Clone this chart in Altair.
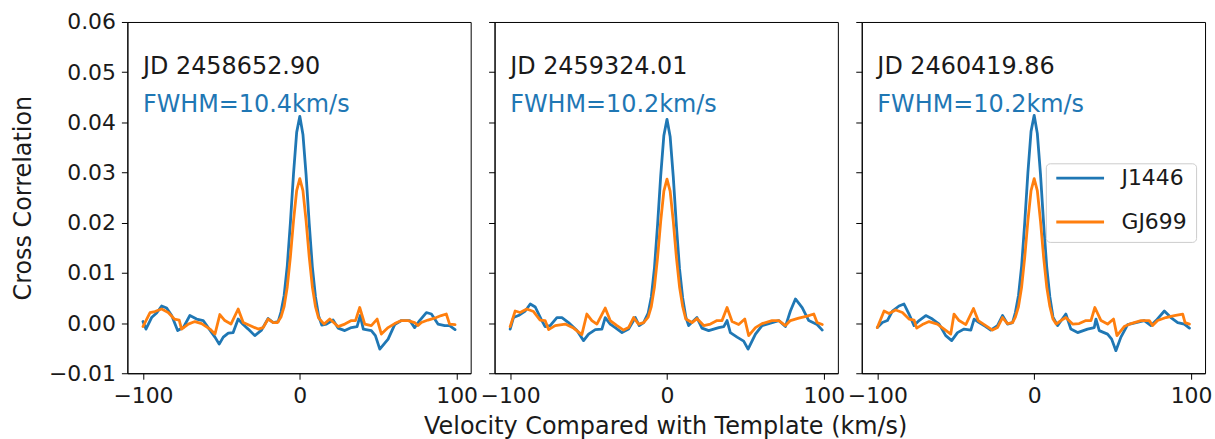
import altair as alt
import pandas as pd

# ---- labels -------------------------------------------------------------
STARS = ["J1446", "GJ699"]
STAR_COLORS = ["#1f77b4", "#ff7f0e"]
EPOCHS = ["JD 2458652.90", "JD 2459324.01", "JD 2460419.86"]
FWHM = ["FWHM=10.4km/s", "FWHM=10.2km/s", "FWHM=10.2km/s"]
X_TICKS = [-100, 0, 100]
Y_TICKS = [-0.01, 0.0, 0.01, 0.02, 0.03, 0.04, 0.05, 0.06]
X_DOMAIN = [-109.95, 108.95]
Y_DOMAIN = [-0.01, 0.06]
NOTE_V = -100                 # left edge of the epoch / FWHM notes (km/s)
NOTE_CC = [0.0497, 0.0420]    # baselines of the two note lines

# ---- cross-correlation functions: (velocity km/s, CCF) -------------------
j1446_e1 = [
    (-100, 0.0003), (-98.1, -0.0012), (-94.5, 0.0011), (-91.3, 0.0020), (-88.1, 0.0034),
    (-84.9, 0.0030), (-81.7, 0.0015), (-77.9, -0.0015), (-74.3, -0.0009), (-70.1, 0.0015),
    (-65.8, 0.0008), (-61.6, 0.0005), (-57.3, -0.0014), (-54.1, -0.0028), (-51.4, -0.0042),
    (-48.8, -0.0028), (-45.6, -0.0020), (-42.5, -0.0019), (-39.3, 0.0008), (-36.1, -0.0003),
    (-32.9, -0.0012), (-28.7, -0.0025), (-24.4, -0.0014), (-20.2, 0.0009), (-16.9, 0.0001),
    (-13.8, 0.0003), (-12, 0.0022), (-10, 0.0055), (-8, 0.0114), (-6, 0.0200), (-4, 0.0298),
    (-2, 0.0380), (0, 0.0412), (2, 0.0376), (4, 0.0296), (6, 0.0198), (8, 0.0112),
    (10, 0.0052), (12, 0.0014), (14, -0.0004), (17.0, -0.0002), (21.2, 0.0006),
    (24.4, -0.0010), (28.7, -0.0015), (32.9, -0.0009), (36.5, -0.0007), (38.5, 0.0015),
    (40.5, -0.0012), (45.6, -0.0015), (48.2, -0.0025), (51.0, -0.0052), (56.3, -0.0032),
    (60.5, -0.0003), (64.8, 0.0005), (70.1, 0.0005), (73.2, -0.0009), (76.4, 0.0005),
    (80.7, 0.0021), (83.9, 0.0018), (88.1, -0.0002), (92.4, -0.0005), (95.5, -0.0005),
    (99, -0.0013),
]
gj699_e1 = [
    (-100, -0.0007), (-95.5, 0.0021), (-92.4, 0.0023), (-88.1, 0.0028), (-83.9, 0.0021),
    (-80.0, 0.0008), (-76.9, 0.0006), (-75.4, -0.0012), (-71.1, -0.0002), (-66.9, 0.0003),
    (-62.6, -0.0001), (-57.3, -0.0012), (-54.1, -0.0022), (-51.0, 0.0017), (-47.8, 0.0005),
    (-43.9, -0.0002), (-39.3, 0.0028), (-36.1, 0.0001), (-31.8, -0.0005), (-26.5, -0.0012),
    (-23.4, -0.0009), (-20.2, 0.0008), (-16.9, 0.0001), (-14.2, 0.0001), (-12, 0.0012),
    (-10, 0.0033), (-8, 0.0072), (-6, 0.0132), (-4, 0.0204), (-2, 0.0264), (0, 0.0288),
    (2, 0.0264), (4, 0.0204), (6, 0.0132), (8, 0.0072), (10, 0.0033), (12, 0.0010),
    (15.5, -0.0002), (19.1, 0.0008), (24.4, -0.0007), (28.7, -0.0002), (32.9, 0.0005),
    (35.5, 0.0005), (38.2, 0.0031), (41.4, -0.0002), (45.6, -0.0005), (49.3, 0.0008),
    (52.0, -0.0022), (56.3, -0.0009), (60.5, -0.0001), (64.8, 0.0005), (69.0, 0.0005),
    (73.2, 0.0001), (75.4, -0.0005), (77.5, 0.0001), (81.7, 0.0006), (87.0, 0.0011),
    (90.2, 0.0015), (93.4, 0.0018), (95.5, -0.0002), (99, -0.0003),
]
j1446_e2 = [
    (-100, -0.0012), (-97.9, 0.0011), (-94.7, 0.0015), (-90.4, 0.0024), (-87.2, 0.0038),
    (-84.0, 0.0032), (-79.8, 0.0005), (-77.7, -0.0007), (-74.5, -0.0005), (-70.2, 0.0011),
    (-67.0, 0.0011), (-62.8, 0.0001), (-57.4, -0.0015), (-53.2, -0.0035), (-50.0, -0.0022),
    (-45.7, -0.0013), (-41.5, -0.0012), (-39.4, 0.0011), (-36.2, -0.0002), (-33.0, -0.0009),
    (-28.7, -0.0019), (-24.5, -0.0012), (-20.2, 0.0011), (-17.7, -0.0005), (-14.9, 0.0001),
    (-12, 0.0020), (-10, 0.0052), (-8, 0.0110), (-6, 0.0196), (-4, 0.0294), (-2, 0.0374),
    (0, 0.0406), (2, 0.0372), (4, 0.0292), (6, 0.0194), (8, 0.0108), (10, 0.0050),
    (12, 0.0012), (13.8, -0.0005), (19.1, 0.0011), (22.3, -0.0010), (26.6, -0.0015),
    (33.0, -0.0009), (36.2, -0.0007), (38.3, 0.0005), (40.4, -0.0019), (44.7, -0.0028),
    (48.9, -0.0036), (51.7, -0.0052), (56.4, -0.0022), (60.6, -0.0005), (67.0, 0.0001),
    (71.3, 0.0005), (75.5, -0.0007), (78.7, 0.0024), (81.9, 0.0048), (86.2, 0.0031),
    (90.4, 0.0005), (95.7, -0.0003), (99, -0.0014),
]
gj699_e2 = [
    (-100, -0.0007), (-96.8, 0.0024), (-93.6, 0.0021), (-89.4, 0.0028), (-85.1, 0.0023),
    (-80.9, 0.0006), (-77.7, 0.0005), (-75.5, -0.0013), (-71.3, -0.0005), (-64.9, -0.0002),
    (-59.6, -0.0010), (-54.3, -0.0023), (-51.1, 0.0018), (-47.9, 0.0005), (-44.7, -0.0002),
    (-39.4, 0.0030), (-36.2, 0.0005), (-31.9, -0.0005), (-27.7, -0.0014), (-24.5, -0.0009),
    (-21.3, 0.0011), (-18.1, -0.0002), (-14.9, 0.0001), (-12, 0.0012), (-10, 0.0033),
    (-8, 0.0072), (-6, 0.0131), (-4, 0.0203), (-2, 0.0263), (0, 0.0287), (2, 0.0263),
    (4, 0.0203), (6, 0.0131), (8, 0.0072), (10, 0.0033), (12, 0.0008), (16.0, 0.0001),
    (19.1, 0.0009), (23.4, -0.0005), (27.7, -0.0002), (31.9, 0.0005), (35.1, 0.0005),
    (38.3, 0.0031), (41.5, 0.0003), (45.7, -0.0003), (49.6, 0.0008), (52.1, -0.0025),
    (56.4, -0.0009), (60.6, -0.0001), (67.0, 0.0005), (71.3, 0.0005), (75.5, -0.0005),
    (78.7, 0.0005), (84.0, 0.0010), (89.4, 0.0014), (93.6, 0.0018), (95.7, 0.0001),
    (99, -0.0003),
]
j1446_e3 = [
    (-100, -0.0009), (-96.8, 0.0001), (-93.6, 0.0005), (-90.4, 0.0024), (-86.2, 0.0034),
    (-83.0, 0.0038), (-79.8, 0.0018), (-76.6, -0.0005), (-73.4, 0.0005), (-69.1, 0.0015),
    (-64.9, 0.0008), (-60.6, -0.0002), (-56.4, -0.0025), (-52.6, -0.0035), (-48.9, -0.0019),
    (-44.7, -0.0012), (-40.4, -0.0014), (-38.3, 0.0008), (-35.1, 0.0001), (-30.9, -0.0007),
    (-27.7, -0.0014), (-23.4, -0.0005), (-20.2, 0.0015), (-17.0, -0.0002), (-13.8, 0.0001),
    (-12, 0.0021), (-10, 0.0055), (-8, 0.0114), (-6, 0.0201), (-4, 0.0300), (-2, 0.0382),
    (0, 0.0414), (2, 0.0378), (4, 0.0298), (6, 0.0199), (8, 0.0112), (10, 0.0052),
    (12, 0.0012), (14.9, -0.0005), (20.2, 0.0018), (23.4, -0.0012), (27.7, -0.0019),
    (34.0, -0.0012), (38.3, -0.0009), (39.4, 0.0008), (41.5, -0.0015), (46.8, -0.0022),
    (49.4, -0.0032), (52.1, -0.0055), (55.3, -0.0028), (59.6, -0.0003), (64.9, 0.0001),
    (70.2, 0.0005), (74.5, -0.0005), (77.7, 0.0005), (83.0, 0.0024), (87.2, 0.0011),
    (91.5, 0.0001), (95.7, -0.0002), (99, -0.0010),
]
gj699_e3 = [
    (-100, -0.0009), (-95.7, 0.0024), (-92.6, 0.0019), (-88.3, 0.0026), (-84.0, 0.0021),
    (-79.8, 0.0008), (-76.6, 0.0006), (-74.9, -0.0010), (-71.3, -0.0003), (-67.0, 0.0003),
    (-61.7, -0.0002), (-57.4, -0.0012), (-53.2, -0.0022), (-51.1, 0.0018), (-47.9, 0.0005),
    (-43.6, -0.0003), (-38.7, 0.0029), (-35.7, 0.0005), (-30.9, -0.0005), (-26.6, -0.0014),
    (-23.4, -0.0009), (-20.2, 0.0011), (-17.0, -0.0001), (-13.8, 0.0001), (-12, 0.0012),
    (-10, 0.0033), (-8, 0.0072), (-6, 0.0132), (-4, 0.0204), (-2, 0.0264), (0, 0.0288),
    (2, 0.0264), (4, 0.0204), (6, 0.0132), (8, 0.0072), (10, 0.0033), (12, 0.0008),
    (14.0, -0.0002), (17.0, 0.0005), (20.2, 0.0011), (24.5, -0.0002), (28.7, -0.0001),
    (33.0, 0.0005), (36.2, 0.0005), (38.7, 0.0031), (42.6, 0.0005), (46.8, -0.0002),
    (50.6, 0.0008), (52.8, -0.0025), (57.4, -0.0007), (61.7, -0.0001), (68.1, 0.0005),
    (73.4, 0.0005), (75.5, -0.0005), (78.7, 0.0005), (84.0, 0.0011), (89.4, 0.0015),
    (94.7, 0.0018), (96.2, 0.0001), (99, -0.0002),
]

CCF = [
    (j1446_e1, gj699_e1),
    (j1446_e2, gj699_e2),
    (j1446_e3, gj699_e3),
]

FONT = "DejaVu Sans"
INK = "#1a1a1a"
PANEL_W, PANEL_H = 345, 353

legend = alt.Legend(
    title=None, orient="none", legendX=923, legendY=142, direction="vertical",
    symbolType="stroke", symbolSize=2304, symbolStrokeWidth=2.8,
    clipHeight=12, rowPadding=22, labelOffset=16, labelFontSize=22,
    labelFont=FONT, labelColor=INK, labelLimit=300, padding=9,
    strokeColor="#cccccc", fillColor="rgba(255,255,255,0.8)", cornerRadius=4,
)
color = alt.Color("star:N", scale=alt.Scale(domain=STARS, range=STAR_COLORS), legend=legend)


def panel(k):
    rows = []
    for star, series in zip(STARS, CCF[k]):
        for v, cc in series:
            rows.append({"star": star, "v": v, "cc": cc})
    df = pd.DataFrame(rows)

    if k == 1:
        x_axis = alt.Axis(values=X_TICKS, format="d",
                          title="Velocity Compared with Template (km/s)",
                          titleX=PANEL_W / 2 - 1, titleY=61, titleBaseline="alphabetic",
                          titleAlign="center")
    else:
        x_axis = alt.Axis(values=X_TICKS, format="d", title=None)
    if k == 0:
        y_axis = alt.Axis(values=Y_TICKS, format=".2f", title="Cross Correlation",
                          titleAngle=270, titleX=-97, titleY=PANEL_H / 2,
                          titleBaseline="alphabetic", titleAlign="center")
    else:
        y_axis = alt.Axis(values=Y_TICKS, labels=False, title=None)

    x = alt.X("v:Q", scale=alt.Scale(domain=X_DOMAIN, nice=False, zero=False), axis=x_axis)
    y = alt.Y("cc:Q", scale=alt.Scale(domain=Y_DOMAIN, nice=False, zero=False), axis=y_axis)

    # J1446 first, GJ699 drawn on top of it
    layers = []
    for star in STARS:
        layers.append(
            alt.Chart(df)
            .transform_filter(alt.datum.star == star)
            .mark_line(strokeWidth=2.8, strokeJoin="round", strokeCap="round")
            .encode(x=x, y=y, color=color)
        )

    notes = pd.DataFrame({
        "v": [NOTE_V, NOTE_V],
        "cc": NOTE_CC,
        "label": [EPOCHS[k], FWHM[k]],
        "tone": [INK, STAR_COLORS[0]],
    })
    text = (
        alt.Chart(notes)
        .mark_text(align="left", baseline="alphabetic", font=FONT, fontSize=24)
        .encode(
            x=alt.X("v:Q"), y=alt.Y("cc:Q"),
            text="label:N",
            color=alt.Color("tone:N", scale=None),
        )
    )
    return alt.layer(*layers, text).properties(width=PANEL_W, height=PANEL_H)


chart = (
    alt.hconcat(panel(0), panel(1), panel(2), spacing=24, bounds="flush")
    .resolve_scale(color="shared")
    .properties(padding={"left": 11, "top": 9, "right": 2, "bottom": 2}, background="white")
    .configure_view(stroke="#000000", strokeWidth=1)
    .configure_axis(
        grid=False, domainColor="#000000", domainWidth=1, tickColor="#000000",
        tickSize=6, tickWidth=1, labelFont=FONT, labelFontSize=22, labelColor=INK,
        labelPadding=6, titleFont=FONT, titleFontSize=24, titleFontWeight="normal",
        titleColor=INK,
    )
)

chart.save("out.html", embed_options={"renderer": "svg", "actions": False})
